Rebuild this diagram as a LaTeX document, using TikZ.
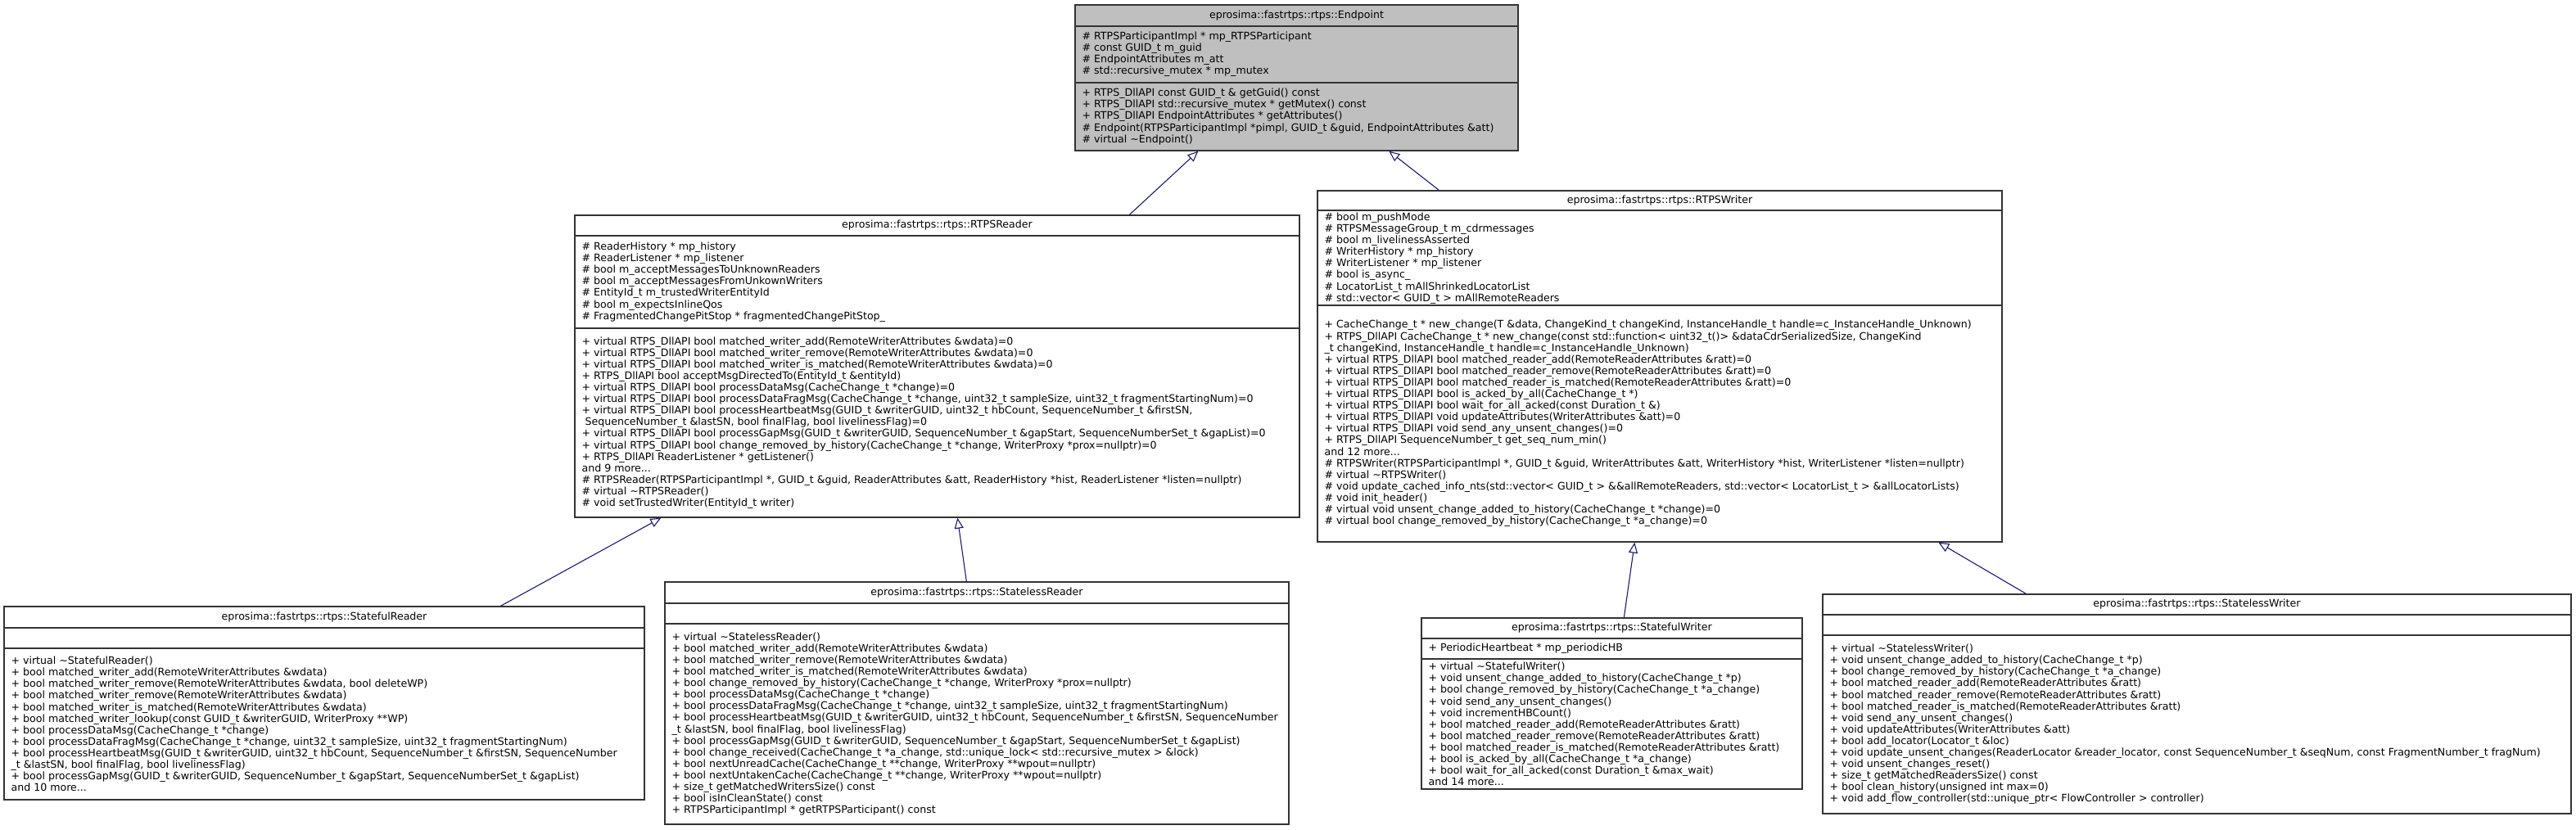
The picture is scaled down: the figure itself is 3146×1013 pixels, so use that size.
\documentclass[tikz,border=0pt]{standalone}
\usepackage{fontspec}
\setmainfont{DejaVu Sans}
\usetikzlibrary{arrows.meta}
\definecolor{edgeblue}{HTML}{191970}
\definecolor{basegrey}{HTML}{BFBFBF}
\begin{document}
\begin{tikzpicture}[x=1pt, y=-1pt,
    classbox/.style={draw=black!80, line width=1.3pt, fill=white, rectangle, inner sep=0pt},
    sepline/.style={draw=black!80, line width=1.3pt},
    titletext/.style={inner sep=0pt, font=\fontsize{12.6}{14.1}\selectfont},
    members/.style={inner sep=0pt, anchor=west, xshift=9pt, align=left, font=\fontsize{12.6}{14.1}\selectfont},
    inherit/.style={draw=edgeblue, line width=1.1pt, -{Triangle[open, length=13pt, width=11pt]}}]
\path[use as bounding box, fill=white] (0,0) rectangle (3146,1013);

% class boxes
\node[classbox, fill=basegrey, minimum width=541, minimum height=178] (endpoint) at (1583.5,95) {};
\node[classbox, minimum width=885, minimum height=369] (rtpsreader) at (1144.5,447.5) {};
\node[classbox, minimum width=836, minimum height=429] (rtpswriter) at (2027,447.5) {};
\node[classbox, minimum width=782, minimum height=236] (statefulreader) at (396,859) {};
\node[classbox, minimum width=762, minimum height=296] (statelessreader) at (1193,859) {};
\node[classbox, minimum width=465, minimum height=209] (statefulwriter) at (1968.5,859.5) {};
\node[classbox, minimum width=914, minimum height=268] (statelesswriter) at (2683,860) {};

% compartments
\draw[sepline] (endpoint.west |- 0,32) -- (endpoint.east |- 0,32);
\draw[sepline] (endpoint.west |- 0,101) -- (endpoint.east |- 0,101);
\draw[sepline] (rtpsreader.west |- 0,288) -- (rtpsreader.east |- 0,288);
\draw[sepline] (rtpsreader.west |- 0,401) -- (rtpsreader.east |- 0,401);
\draw[sepline] (rtpswriter.west |- 0,257) -- (rtpswriter.east |- 0,257);
\draw[sepline] (rtpswriter.west |- 0,373) -- (rtpswriter.east |- 0,373);
\draw[sepline] (statefulreader.west |- 0,767) -- (statefulreader.east |- 0,767);
\draw[sepline] (statefulreader.west |- 0,792) -- (statefulreader.east |- 0,792);
\draw[sepline] (statelessreader.west |- 0,737) -- (statelessreader.east |- 0,737);
\draw[sepline] (statelessreader.west |- 0,762) -- (statelessreader.east |- 0,762);
\draw[sepline] (statefulwriter.west |- 0,780) -- (statefulwriter.east |- 0,780);
\draw[sepline] (statefulwriter.west |- 0,805) -- (statefulwriter.east |- 0,805);
\draw[sepline] (statelesswriter.west |- 0,751) -- (statelesswriter.east |- 0,751);
\draw[sepline] (statelesswriter.west |- 0,776) -- (statelesswriter.east |- 0,776);

% Endpoint
\node[titletext] (endpoint-name) at (endpoint.center |- 0,19) {eprosima::fastrtps::rtps::Endpoint};
\node[members] (endpoint-attr) at (endpoint.west |- 0,66.5) {\# RTPSParticipantImpl * mp\_RTPSParticipant\\
\# const GUID\_t m\_guid\\
\# EndpointAttributes m\_att\\
\# std::recursive\_mutex * mp\_mutex};
\node[members] (endpoint-ops) at (endpoint.west |- 0,142.5) {+ RTPS\_DllAPI const GUID\_t \& getGuid() const\\
+ RTPS\_DllAPI std::recursive\_mutex * getMutex() const\\
+ RTPS\_DllAPI EndpointAttributes * getAttributes()\\
\# Endpoint(RTPSParticipantImpl *pimpl, GUID\_t \&guid, EndpointAttributes \&att)\\
\# virtual \textasciitilde Endpoint()};

% RTPSReader
\node[titletext] (rtpsreader-name) at (rtpsreader.center |- 0,275.5) {eprosima::fastrtps::rtps::RTPSReader};
\node[members] (rtpsreader-attr) at (rtpsreader.west |- 0,344.5) {\# ReaderHistory * mp\_history\\
\# ReaderListener * mp\_listener\\
\# bool m\_acceptMessagesToUnknownReaders\\
\# bool m\_acceptMessagesFromUnkownWriters\\
\# EntityId\_t m\_trustedWriterEntityId\\
\# bool m\_expectsInlineQos\\
\# FragmentedChangePitStop * fragmentedChangePitStop\_};
\node[members] (rtpsreader-ops) at (rtpsreader.west |- 0,516.5) {+ virtual RTPS\_DllAPI bool matched\_writer\_add(RemoteWriterAttributes \&wdata)=0\\
+ virtual RTPS\_DllAPI bool matched\_writer\_remove(RemoteWriterAttributes \&wdata)=0\\
+ virtual RTPS\_DllAPI bool matched\_writer\_is\_matched(RemoteWriterAttributes \&wdata)=0\\
+ RTPS\_DllAPI bool acceptMsgDirectedTo(EntityId\_t \&entityId)\\
+ virtual RTPS\_DllAPI bool processDataMsg(CacheChange\_t *change)=0\\
+ virtual RTPS\_DllAPI bool processDataFragMsg(CacheChange\_t *change, uint32\_t sampleSize, uint32\_t fragmentStartingNum)=0\\
+ virtual RTPS\_DllAPI bool processHeartbeatMsg(GUID\_t \&writerGUID, uint32\_t hbCount, SequenceNumber\_t \&firstSN,\\
\ SequenceNumber\_t \&lastSN, bool finalFlag, bool livelinessFlag)=0\\
+ virtual RTPS\_DllAPI bool processGapMsg(GUID\_t \&writerGUID, SequenceNumber\_t \&gapStart, SequenceNumberSet\_t \&gapList)=0\\
+ virtual RTPS\_DllAPI bool change\_removed\_by\_history(CacheChange\_t *change, WriterProxy *prox=nullptr)=0\\
+ RTPS\_DllAPI ReaderListener * getListener()\\
and 9 more...\\
\# RTPSReader(RTPSParticipantImpl *, GUID\_t \&guid, ReaderAttributes \&att, ReaderHistory *hist, ReaderListener *listen=nullptr)\\
\# virtual \textasciitilde RTPSReader()\\
\# void setTrustedWriter(EntityId\_t writer)};

% RTPSWriter
\node[titletext] (rtpswriter-name) at (rtpswriter.center |- 0,245) {eprosima::fastrtps::rtps::RTPSWriter};
\node[members] (rtpswriter-attr) at (rtpswriter.west |- 0,315.5) {\# bool m\_pushMode\\
\# RTPSMessageGroup\_t m\_cdrmessages\\
\# bool m\_livelinessAsserted\\
\# WriterHistory * mp\_history\\
\# WriterListener * mp\_listener\\
\# bool is\_async\_\\
\# LocatorList\_t mAllShrinkedLocatorList\\
\# std::vector< GUID\_t > mAllRemoteReaders};
\node[members] (rtpswriter-ops) at (rtpswriter.west |- 0,517.5) {+ CacheChange\_t * new\_change(T \&data, ChangeKind\_t changeKind, InstanceHandle\_t handle=c\_InstanceHandle\_Unknown)\\
+ RTPS\_DllAPI CacheChange\_t * new\_change(const std::function< uint32\_t()> \&dataCdrSerializedSize, ChangeKind\\
\_t changeKind, InstanceHandle\_t handle=c\_InstanceHandle\_Unknown)\\
+ virtual RTPS\_DllAPI bool matched\_reader\_add(RemoteReaderAttributes \&ratt)=0\\
+ virtual RTPS\_DllAPI bool matched\_reader\_remove(RemoteReaderAttributes \&ratt)=0\\
+ virtual RTPS\_DllAPI bool matched\_reader\_is\_matched(RemoteReaderAttributes \&ratt)=0\\
+ virtual RTPS\_DllAPI bool is\_acked\_by\_all(CacheChange\_t *)\\
+ virtual RTPS\_DllAPI bool wait\_for\_all\_acked(const Duration\_t \&)\\
+ virtual RTPS\_DllAPI void updateAttributes(WriterAttributes \&att)=0\\
+ virtual RTPS\_DllAPI void send\_any\_unsent\_changes()=0\\
+ RTPS\_DllAPI SequenceNumber\_t get\_seq\_num\_min()\\
and 12 more...\\
\# RTPSWriter(RTPSParticipantImpl *, GUID\_t \&guid, WriterAttributes \&att, WriterHistory *hist, WriterListener *listen=nullptr)\\
\# virtual \textasciitilde RTPSWriter()\\
\# void update\_cached\_info\_nts(std::vector< GUID\_t > \&\&allRemoteReaders, std::vector< LocatorList\_t > \&allLocatorLists)\\
\# void init\_header()\\
\# virtual void unsent\_change\_added\_to\_history(CacheChange\_t *change)=0\\
\# virtual bool change\_removed\_by\_history(CacheChange\_t *a\_change)=0};

% StatefulReader
\node[titletext] (statefulreader-name) at (statefulreader.center |- 0,754) {eprosima::fastrtps::rtps::StatefulReader};
\node[members] (statefulreader-ops) at (statefulreader.west |- 0,884.5) {+ virtual \textasciitilde StatefulReader()\\
+ bool matched\_writer\_add(RemoteWriterAttributes \&wdata)\\
+ bool matched\_writer\_remove(RemoteWriterAttributes \&wdata, bool deleteWP)\\
+ bool matched\_writer\_remove(RemoteWriterAttributes \&wdata)\\
+ bool matched\_writer\_is\_matched(RemoteWriterAttributes \&wdata)\\
+ bool matched\_writer\_lookup(const GUID\_t \&writerGUID, WriterProxy **WP)\\
+ bool processDataMsg(CacheChange\_t *change)\\
+ bool processDataFragMsg(CacheChange\_t *change, uint32\_t sampleSize, uint32\_t fragmentStartingNum)\\
+ bool processHeartbeatMsg(GUID\_t \&writerGUID, uint32\_t hbCount, SequenceNumber\_t \&firstSN, SequenceNumber\\
\_t \&lastSN, bool finalFlag, bool livelinessFlag)\\
+ bool processGapMsg(GUID\_t \&writerGUID, SequenceNumber\_t \&gapStart, SequenceNumberSet\_t \&gapList)\\
and 10 more...};

% StatelessReader
\node[titletext] (statelessreader-name) at (statelessreader.center |- 0,724) {eprosima::fastrtps::rtps::StatelessReader};
\node[members] (statelessreader-ops) at (statelessreader.west |- 0,884.5) {+ virtual \textasciitilde StatelessReader()\\
+ bool matched\_writer\_add(RemoteWriterAttributes \&wdata)\\
+ bool matched\_writer\_remove(RemoteWriterAttributes \&wdata)\\
+ bool matched\_writer\_is\_matched(RemoteWriterAttributes \&wdata)\\
+ bool change\_removed\_by\_history(CacheChange\_t *change, WriterProxy *prox=nullptr)\\
+ bool processDataMsg(CacheChange\_t *change)\\
+ bool processDataFragMsg(CacheChange\_t *change, uint32\_t sampleSize, uint32\_t fragmentStartingNum)\\
+ bool processHeartbeatMsg(GUID\_t \&writerGUID, uint32\_t hbCount, SequenceNumber\_t \&firstSN, SequenceNumber\\
\_t \&lastSN, bool finalFlag, bool livelinessFlag)\\
+ bool processGapMsg(GUID\_t \&writerGUID, SequenceNumber\_t \&gapStart, SequenceNumberSet\_t \&gapList)\\
+ bool change\_received(CacheChange\_t *a\_change, std::unique\_lock< std::recursive\_mutex > \&lock)\\
+ bool nextUnreadCache(CacheChange\_t **change, WriterProxy **wpout=nullptr)\\
+ bool nextUntakenCache(CacheChange\_t **change, WriterProxy **wpout=nullptr)\\
+ size\_t getMatchedWritersSize() const\\
+ bool isInCleanState() const\\
+ RTPSParticipantImpl * getRTPSParticipant() const};

% StatefulWriter
\node[titletext] (statefulwriter-name) at (statefulwriter.center |- 0,767.5) {eprosima::fastrtps::rtps::StatefulWriter};
\node[members] (statefulwriter-attr) at (statefulwriter.west |- 0,792.5) {+ PeriodicHeartbeat * mp\_periodicHB};
\node[members] (statefulwriter-ops) at (statefulwriter.west |- 0,884.5) {+ virtual \textasciitilde StatefulWriter()\\
+ void unsent\_change\_added\_to\_history(CacheChange\_t *p)\\
+ bool change\_removed\_by\_history(CacheChange\_t *a\_change)\\
+ void send\_any\_unsent\_changes()\\
+ void incrementHBCount()\\
+ bool matched\_reader\_add(RemoteReaderAttributes \&ratt)\\
+ bool matched\_reader\_remove(RemoteReaderAttributes \&ratt)\\
+ bool matched\_reader\_is\_matched(RemoteReaderAttributes \&ratt)\\
+ bool is\_acked\_by\_all(CacheChange\_t *a\_change)\\
+ bool wait\_for\_all\_acked(const Duration\_t \&max\_wait)\\
and 14 more...};

% StatelessWriter
\node[titletext] (statelesswriter-name) at (statelesswriter.center |- 0,738.5) {eprosima::fastrtps::rtps::StatelessWriter};
\node[members] (statelesswriter-ops) at (statelesswriter.west |- 0,885) {+ virtual \textasciitilde StatelessWriter()\\
+ void unsent\_change\_added\_to\_history(CacheChange\_t *p)\\
+ bool change\_removed\_by\_history(CacheChange\_t *a\_change)\\
+ bool matched\_reader\_add(RemoteReaderAttributes \&ratt)\\
+ bool matched\_reader\_remove(RemoteReaderAttributes \&ratt)\\
+ bool matched\_reader\_is\_matched(RemoteReaderAttributes \&ratt)\\
+ void send\_any\_unsent\_changes()\\
+ void updateAttributes(WriterAttributes \&att)\\
+ bool add\_locator(Locator\_t \&loc)\\
+ void update\_unsent\_changes(ReaderLocator \&reader\_locator, const SequenceNumber\_t \&seqNum, const FragmentNumber\_t fragNum)\\
+ void unsent\_changes\_reset()\\
+ size\_t getMatchedReadersSize() const\\
+ bool clean\_history(unsigned int max=0)\\
+ void add\_flow\_controller(std::unique\_ptr< FlowController > controller)};

% inheritance
\draw[inherit] ([xshift=678pt]rtpsreader.north west) -- ([xshift=151pt]endpoint.south west);
\draw[inherit] ([xshift=149pt]rtpswriter.north west) -- ([xshift=384pt]endpoint.south west);
\draw[inherit] ([xshift=607pt]statefulreader.north west) -- ([xshift=106pt]rtpsreader.south west);
\draw[inherit] ([xshift=369pt]statelessreader.north west) -- ([xshift=468pt]rtpsreader.south west);
\draw[inherit] ([xshift=248pt]statefulwriter.north west) -- ([xshift=388pt]rtpswriter.south west);
\draw[inherit] ([xshift=249pt]statelesswriter.north west) -- ([xshift=759pt]rtpswriter.south west);
\end{tikzpicture}
\end{document}
